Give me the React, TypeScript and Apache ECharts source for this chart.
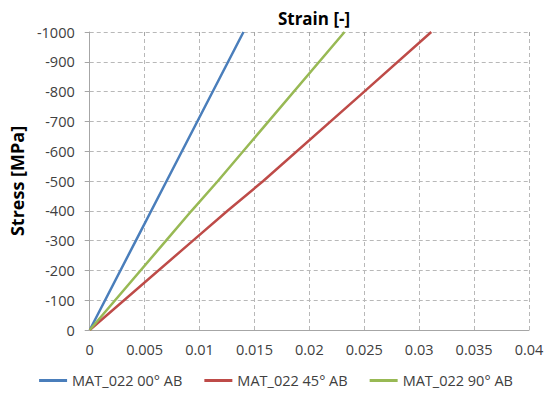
import React, { useEffect, useRef } from "react";
import * as echarts from "echarts";

const seriesNames = ["MAT_022 00° AB", "MAT_022 45° AB", "MAT_022 90° AB"];
const colors = ["#4a7ebb", "#be4b48", "#98b954"];

const strain00 = [0, 0.0042, 0.007, 0.014];
const stress00 = [0, -300, -500, -1000];

const strain45 = [0, 0.0094, 0.01255, 0.0158, 0.025, 0.0311];
const stress45 = [0, -300, -400, -500, -800, -1000];

const strain90 = [0, 0.00695, 0.00927, 0.01167, 0.0232];
const stress90 = [0, -300, -400, -500, -1000];

const xMin = 0;
const xMax = 0.04;
const xStep = 0.005;
const yMin = -1000;
const yMax = 0;
const yStep = 100;

const FONT = "'Open Sans', 'Liberation Sans', sans-serif";

function zip(xs: number[], ys: number[]) {
  return xs.map((x, i) => [x, ys[i]]);
}

export default function App() {
  const ref = useRef<HTMLDivElement>(null);
  useEffect(() => {
    if (!ref.current) return;
    const chart = echarts.init(ref.current, null, { renderer: "svg" });
    const data = [zip(strain00, stress00), zip(strain45, stress45), zip(strain90, stress90)];
    const gridLine = { show: true, lineStyle: { color: "#b8b8b8", type: [4, 3], width: 1 } };
    chart.setOption({
      animation: false,
      backgroundColor: "#ffffff",
      textStyle: { fontFamily: FONT },
      title: {
        text: "Strain [-]",
        left: 309,
        textAlign: "center",
        top: 5,
        textStyle: { fontFamily: FONT, fontSize: 17, fontWeight: "bold", color: "#000" },
      },
      grid: { left: 89, right: 23, top: 32, bottom: 64, containLabel: false },
      legend: {
        bottom: 1,
        left: "center",
        itemGap: 22,
        itemWidth: 28,
        itemHeight: 3,
        icon: "rect",
        textStyle: { fontFamily: FONT, fontSize: 14.5, color: "#404040" },
        data: seriesNames,
      },
      xAxis: [
        {
          type: "value",
          min: xMin,
          max: xMax,
          interval: xStep,
          axisLine: { show: true, lineStyle: { color: "#a6a6a6", width: 1 } },
          axisTick: { show: false },
          axisLabel: {
            margin: 12,
            fontSize: 14.5,
            color: "#404040",
            fontFamily: FONT,
            formatter: (v: number) => String(+v.toFixed(3)),
          },
          splitLine: gridLine,
        },
        {
          type: "value",
          position: "top",
          min: xMin,
          max: xMax,
          interval: xStep,
          axisLine: { show: false },
          axisTick: { show: true, inside: true, length: 4, lineStyle: { color: "#a6a6a6" } },
          axisLabel: { show: false },
          splitLine: { show: false },
        },
      ],
      yAxis: {
        type: "value",
        min: yMin,
        max: yMax,
        interval: yStep,
        inverse: true,
        name: "Stress [MPa]",
        nameLocation: "middle",
        nameRotate: 90,
        nameGap: 57,
        nameTextStyle: { fontFamily: FONT, fontSize: 18, fontWeight: "bold", color: "#000" },
        axisLine: { show: true, lineStyle: { color: "#a6a6a6", width: 1 } },
        axisTick: { show: true, length: 5, lineStyle: { color: "#a6a6a6" } },
        axisLabel: {
          margin: 15,
          fontSize: 14.5,
          color: "#404040",
          fontFamily: FONT,
          formatter: (v: number) => (v === 0 ? "0" : String(v)),
        },
        splitLine: gridLine,
      },
      series: seriesNames.map((name, i) => ({
        name,
        type: "line",
        xAxisIndex: 0,
        data: data[i],
        showSymbol: false,
        symbol: "none",
        lineStyle: { color: colors[i], width: 2.5 },
        itemStyle: { color: colors[i] },
        smooth: false,
        clip: true,
      })),
    });
    return () => chart.dispose();
  }, []);
  return (
    <div
      ref={ref}
      style={{ position: "fixed", left: 0, top: 0, width: 552, height: 394 }}
    />
  );
}
